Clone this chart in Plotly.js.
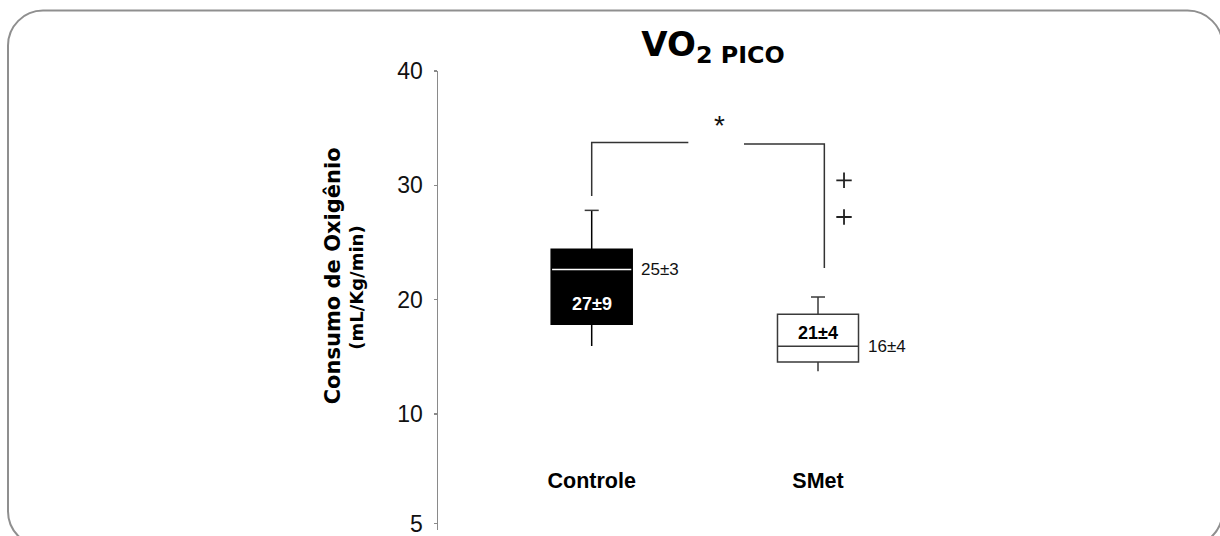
<!DOCTYPE html>
<html>
<head>
<meta charset="utf-8">
<script src="https://cdn.plot.ly/plotly-3.0.1.min.js"></script>
<style>
  html, body { margin: 0; padding: 0; background: #ffffff; }
  #chart { width: 1220px; height: 536px; }
</style>
</head>
<body>
<div id="chart"></div>
<script>
// ---------------- data ----------------
const categories = ['Controle', 'SMet'];
const lowerWhisker = [15.94, 13.73];
const q1Values = [17.84, 14.55];
const medianValues = [22.63, 15.92];
const q3Values = [24.40, 18.72];
const upperWhisker = [27.81, 20.23];
const meanLabels = ['27±9', '21±4'];
const medianLabels = ['25±3', '16±4'];
const outlierValues = [30.44, 27.23];          // '+' outliers of SMet
const outlierGroup = [1, 1];
const yTickVals = [0.4, 10, 20, 30, 40];       // the "5" label sits at the broken bottom of the axis
const yTickText = ['5', '10', '20', '30', '40'];
const bracketX = [0, 0, 0.427, null, 0.673, 1.028, 1.028];
const bracketY = [29.07, 33.74, 33.74, null, 33.61, 33.61, 22.77];
const significanceMark = '*';

// ---------------- geometry helpers ----------------
const W = 1220, H = 536;
const pxPerUnit = 11.433;
const yMin = -0.15;
const M = { l: 438, r: 220, t: 70.7, b: 8 + yMin * pxPerUnit };
const plotW = W - M.l - M.r, plotH = H - M.t - M.b;
const px2x = px => (px - M.l) / plotW;      // pixel -> paper x
const py2y = py => (H - M.b - py) / plotH;  // pixel -> paper y

const boxWidth = 0.358;
const capHalf = 0.031;
const boxFill = ['#000000', '#ffffff'];
const boxLine = ['#000000', '#3a3a3a'];

const traces = [];
categories.forEach((c, i) => {
  traces.push({
    type: 'box', name: c, x: [i],
    q1: [q1Values[i]], median: [medianValues[i]], q3: [q3Values[i]],
    lowerfence: [lowerWhisker[i]], upperfence: [upperWhisker[i]],
    width: boxWidth, whiskerwidth: 0, boxpoints: false,
    fillcolor: boxFill[i], line: { color: boxLine[i], width: 1.5 },
    hoverinfo: 'skip', showlegend: false
  });
  // top whisker cap
  traces.push({
    type: 'scatter', mode: 'lines', x: [i - capHalf, i + capHalf],
    y: [upperWhisker[i], upperWhisker[i]],
    line: { color: '#3a3a3a', width: 1.5 }, hoverinfo: 'skip', showlegend: false
  });
});
// white median line on the black box
traces.push({
  type: 'scatter', mode: 'lines', x: [0 - boxWidth / 2 + 0.004, 0 + boxWidth / 2 - 0.004],
  y: [medianValues[0], medianValues[0]],
  line: { color: '#ffffff', width: 1.5 }, hoverinfo: 'skip', showlegend: false
});
// significance bracket
traces.push({
  type: 'scatter', mode: 'lines', x: bracketX, y: bracketY,
  line: { color: '#333333', width: 1.5 }, connectgaps: false,
  hoverinfo: 'skip', showlegend: false
});
// outliers
traces.push({
  type: 'scatter', mode: 'markers', x: outlierGroup.map(g => g + 0.115), y: outlierValues,
  marker: { symbol: 'cross-thin-open', size: 11, color: '#222222', line: { color: '#222222', width: 1.8 } },
  hoverinfo: 'skip', showlegend: false
});

const annotations = [];
categories.forEach((c, i) => {
  // mean label inside box
  const inLower = i === 0;
  const yMean = inLower ? (q1Values[i] + medianValues[i]) / 2 : (medianValues[i] + q3Values[i]) / 2;
  annotations.push({
    x: i, y: yMean, xref: 'x', yref: 'y', text: meanLabels[i], showarrow: false,
    yshift: inLower ? -7 : -3,
    font: { family: 'Liberation Sans, Arial, sans-serif', size: 18, weight: 'bold', color: i === 0 ? '#ffffff' : '#000000' }
  });
  // median label to the right of the box
  annotations.push({
    x: i + boxWidth / 2, y: medianValues[i], xref: 'x', yref: 'y', text: medianLabels[i],
    showarrow: false, xanchor: 'left', xshift: 7,
    font: { family: 'Liberation Sans, Arial, sans-serif', size: 17, color: '#111111' }
  });
});
annotations.push({
  x: 0.564, y: 35.2, xref: 'x', yref: 'y', text: significanceMark, showarrow: false,
  font: { family: 'Liberation Sans, Arial, sans-serif', size: 28, color: '#111111' }
});
// y axis title (two lines)
annotations.push({
  x: px2x(333), y: py2y(276), xref: 'paper', yref: 'paper', textangle: -90,
  text: 'Consumo de Oxigênio', showarrow: false, xanchor: 'center', yanchor: 'middle',
  font: { family: 'DejaVu Sans, sans-serif', size: 21, weight: 'bold', color: '#000000' }
});
annotations.push({
  x: px2x(357), y: py2y(287.5), xref: 'paper', yref: 'paper', textangle: -90,
  text: '(mL/Kg/min)', showarrow: false, xanchor: 'center', yanchor: 'middle',
  font: { family: 'DejaVu Sans, sans-serif', size: 18, weight: 'bold', color: '#000000' }
});

// rounded frame
function roundedRect(x0, y0, x1, y1, r) {
  const k = 0.5523 * r;
  const X = px2x, Y = py2y;
  return [
    `M${X(x0 + r)},${Y(y0)}`,
    `L${X(x1 - r)},${Y(y0)}`,
    `C${X(x1 - r + k)},${Y(y0)} ${X(x1)},${Y(y0 + r - k)} ${X(x1)},${Y(y0 + r)}`,
    `L${X(x1)},${Y(y1 - r)}`,
    `C${X(x1)},${Y(y1 - r + k)} ${X(x1 - r + k)},${Y(y1)} ${X(x1 - r)},${Y(y1)}`,
    `L${X(x0 + r)},${Y(y1)}`,
    `C${X(x0 + r - k)},${Y(y1)} ${X(x0)},${Y(y1 - r + k)} ${X(x0)},${Y(y1 - r)}`,
    `L${X(x0)},${Y(y0 + r)}`,
    `C${X(x0)},${Y(y0 + r - k)} ${X(x0 + r - k)},${Y(y0)} ${X(x0 + r)},${Y(y0)}`,
    'Z'
  ].join(' ');
}

const layout = {
  width: W, height: H,
  margin: M,
  paper_bgcolor: '#ffffff', plot_bgcolor: 'rgba(0,0,0,0)',
  showlegend: false,
  title: {
    text: '<b>VO<sub>2 PICO</sub></b>',
    x: 713 / W, xanchor: 'center', xref: 'container',
    y: 1 - 44 / H, yanchor: 'middle', yref: 'container',
    font: { family: 'DejaVu Sans, sans-serif', size: 34, color: '#000000' }
  },
  xaxis: {
    range: [-(591.7 - M.l) / 226.3, -(591.7 - M.l) / 226.3 + plotW / 226.3],
    tickvals: categories.map((c, i) => i), ticktext: categories,
    showline: false, ticks: '', showgrid: false, zeroline: false,
    anchor: 'free', position: py2y(465),
    tickfont: { family: 'Liberation Sans, Arial, sans-serif', size: 21.5, weight: 'bold', color: '#000000' },
    fixedrange: true
  },
  yaxis: {
    range: [yMin, 40], tickvals: yTickVals, ticktext: yTickText,
    showline: true, linecolor: '#8a8a8a', linewidth: 1.5,
    ticks: 'outside', ticklen: 3, tickcolor: '#8a8a8a', tickwidth: 1.2,
    ticklabelstandoff: 6, ticklabeloverflow: 'allow',
    showgrid: false, zeroline: false,
    tickfont: { family: 'Liberation Sans, Arial, sans-serif', size: 23, color: '#111111' },
    fixedrange: true
  },
  shapes: [{
    type: 'path', xref: 'paper', yref: 'paper', layer: 'below',
    path: roundedRect(8, 10.3, 1222.5, 546, 35),
    line: { color: '#8f8f8f', width: 2 }
  }],
  annotations: annotations
};

Plotly.newPlot('chart', traces, layout, { staticPlot: true, displayModeBar: false });
</script>
</body>
</html>
